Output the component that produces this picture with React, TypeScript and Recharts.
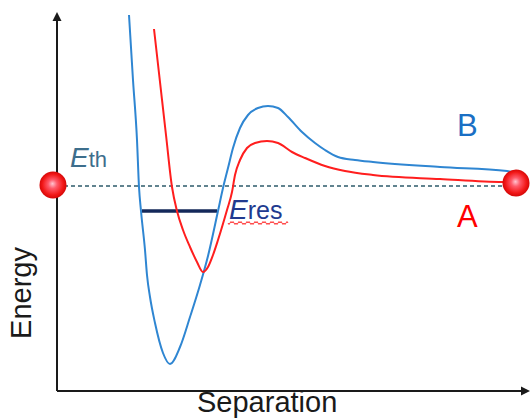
import React from "react";
import { ComposedChart, Line, XAxis, YAxis, ReferenceLine, ReferenceDot } from "recharts";

// Separation (arbitrary units) vs Energy (arbitrary units, 0 = threshold Eth)
const curveB = [
  { x: 7.2, y: 17.1 }, { x: 7.6, y: 10.6 }, { x: 8.0, y: 4.6 }, { x: 8.2, y: -0.1 },
  { x: 8.4, y: -2.5 }, { x: 8.8, y: -6.4 }, { x: 9.0, y: -8.9 }, { x: 9.3, y: -11.1 },
  { x: 9.8, y: -13.7 }, { x: 10.6, y: -16.7 }, { x: 11.3, y: -17.8 }, { x: 12.3, y: -16.1 },
  { x: 13.3, y: -13.1 }, { x: 14.3, y: -9.9 }, { x: 15.1, y: -7.0 }, { x: 16.1, y: -2.5 },
  { x: 16.6, y: -0.2 }, { x: 17.1, y: 1.8 }, { x: 17.6, y: 3.8 }, { x: 18.3, y: 5.8 },
  { x: 19.1, y: 7.1 }, { x: 20.1, y: 7.8 }, { x: 21.1, y: 8.0 }, { x: 22.1, y: 7.8 },
  { x: 23.1, y: 6.9 }, { x: 24.5, y: 5.4 }, { x: 25.8, y: 4.3 }, { x: 26.8, y: 3.6 },
  { x: 28.1, y: 2.9 }, { x: 29.8, y: 2.6 }, { x: 31.6, y: 2.4 }, { x: 38.3, y: 1.9 },
  { x: 45.0, y: 1.5 }, { x: 45.5, y: 1.4 },
];

const curveA = [
  { x: 9.7, y: 15.7 }, { x: 10.3, y: 10.4 }, { x: 10.9, y: 5.1 }, { x: 11.5, y: -0.1 },
  { x: 12.0, y: -2.5 }, { x: 12.6, y: -4.4 }, { x: 13.3, y: -6.1 }, { x: 14.0, y: -7.6 },
  { x: 14.6, y: -8.6 }, { x: 15.1, y: -8.1 }, { x: 15.6, y: -6.9 }, { x: 16.1, y: -5.4 },
  { x: 17.0, y: -2.4 }, { x: 17.5, y: -0.6 }, { x: 17.8, y: 1.1 }, { x: 18.3, y: 2.6 },
  { x: 19.0, y: 3.8 }, { x: 19.8, y: 4.3 }, { x: 21.0, y: 4.5 }, { x: 22.1, y: 4.3 },
  { x: 23.5, y: 3.4 }, { x: 24.8, y: 2.8 }, { x: 26.8, y: 2.0 }, { x: 28.8, y: 1.5 },
  { x: 31.6, y: 1.1 }, { x: 38.3, y: 0.7 }, { x: 44.6, y: 0.4 }, { x: 45.5, y: 0.4 },
];

const thresholdE = 0;
const resonanceE = -2.5;
const resonanceSpan = [8.5, 16.0];
const atomEnds = [{ x: -0.4, y: 0.1 }, { x: 45.9, y: 0.3 }];
const axisOrigin = { x: 0, y: -20.5 };
const axisEnds = { x: 47.3, y: 17.4 };
const xDomain = [-5.7, 47.4];
const yDomain = [-23.2, 18.6];

const labelPos = {
  eth: { x: 1.3, y: 1.9 },
  eres: { x: 17.2, y: -3.3 },
  b: { x: 40.0, y: 5.0 },
  a: { x: 40.0, y: -4.1 },
  energy: { x: -3.4, y: -10.7 },
  separation: { x: 14.0, y: -22.6 },
};

const FONT = "'Liberation Sans', Arial, sans-serif";

const Sphere = (props: any) => {
  const { cx, cy } = props;
  const id = "sph" + Math.round(cx);
  return (
    <g>
      <defs>
        <radialGradient id={id} cx="50%" cy="50%" r="55%" fx="48%" fy="45%">
          <stop offset="0%" stopColor="#ffc4d0" />
          <stop offset="30%" stopColor="#ff5a6a" />
          <stop offset="70%" stopColor="#f21818" />
          <stop offset="100%" stopColor="#c80000" />
        </radialGradient>
      </defs>
      <circle cx={cx} cy={cy} r={13.5} fill={`url(#${id})`} />
    </g>
  );
};

const ArrowLine = (props: any) => {
  const { x1, y1, x2, y2 } = props;
  const ang = Math.atan2(y2 - y1, x2 - x1);
  const L = 9, W = 4.5;
  const bx = x2 - L * Math.cos(ang), by = y2 - L * Math.sin(ang);
  const px = -Math.sin(ang) * W, py = Math.cos(ang) * W;
  return (
    <g>
      <line x1={x1} y1={y1} x2={bx + 2 * Math.cos(ang)} y2={by + 2 * Math.sin(ang)} stroke="#1a1a1a" strokeWidth={2} />
      <polygon points={`${x2},${y2} ${bx + px},${by + py} ${bx - px},${by - py}`} fill="#1a1a1a" />
    </g>
  );
};

const EthLabel = (props: any) => (
  <text x={props.cx} y={props.cy} fill="#3d6e8c" fontFamily={FONT}>
    <tspan fontStyle="italic" fontSize={28}>E</tspan>
    <tspan fontSize={22}>th</tspan>
  </text>
);

const EresLabel = (props: any) => {
  const { cx, cy } = props;
  let d = `M ${cx - 1} ${cy + 4}`;
  for (let i = 0; i < 15; i++) {
    d += ` q 1 ${i % 2 === 0 ? 3 : -3} 2 0 q 1 ${i % 2 === 0 ? -3 : 3} 2 0`;
  }
  return (
    <g>
      <text x={cx} y={cy} fill="#213a8f" fontFamily={FONT}>
        <tspan fontStyle="italic" fontSize={28}>E</tspan>
        <tspan fontSize={25}>res</tspan>
      </text>
      <path d={d} fill="none" stroke="#ff3030" strokeWidth={1} />
    </g>
  );
};

const TextLabel = (color: string, size: number, text: string, rotate = false, anchor = "start") => (props: any) => (
  <text
    x={props.cx}
    y={props.cy}
    fill={color}
    fontFamily={FONT}
    fontSize={size}
    textAnchor={anchor}
    dominantBaseline={rotate ? "middle" : "auto"}
    transform={rotate ? `rotate(-90 ${props.cx} ${props.cy})` : undefined}
  >
    {text}
  </text>
);

export default function App() {
  return (
    <div style={{ width: 531, height: 418 }}>
      <style>{"body{margin:0;}"}</style>
      <ComposedChart width={531} height={418} margin={{ top: 0, right: 0, bottom: 0, left: 0 }}>
        <XAxis type="number" dataKey="x" domain={xDomain} allowDataOverflow hide />
        <YAxis type="number" dataKey="y" domain={yDomain} allowDataOverflow hide />
        <ReferenceLine
          segment={[{ x: axisOrigin.x, y: axisOrigin.y }, { x: axisOrigin.x, y: axisEnds.y }]}
          ifOverflow="visible"
          shape={ArrowLine}
        />
        <ReferenceLine
          segment={[{ x: axisOrigin.x, y: axisOrigin.y }, { x: axisEnds.x, y: axisOrigin.y }]}
          ifOverflow="visible"
          shape={ArrowLine}
        />
        <ReferenceLine
          segment={[{ x: 0, y: thresholdE }, { x: 45.5, y: thresholdE }]}
          stroke="#2e5b6b"
          strokeWidth={1.5}
          strokeDasharray="4 3"
          ifOverflow="visible"
        />
        <ReferenceLine
          segment={[{ x: resonanceSpan[0], y: resonanceE }, { x: resonanceSpan[1], y: resonanceE }]}
          stroke="#14285a"
          strokeWidth={3.5}
          ifOverflow="visible"
        />
        <Line data={curveB} dataKey="y" type="monotone" stroke="#2f86d2" strokeWidth={2} dot={false} activeDot={false} legendType="none" isAnimationActive={false} />
        <Line data={curveA} dataKey="y" type="monotone" stroke="#ff1e1e" strokeWidth={2} dot={false} activeDot={false} legendType="none" isAnimationActive={false} />
        {atomEnds.map((p, i) => (
          <ReferenceDot key={i} x={p.x} y={p.y} ifOverflow="visible" shape={Sphere} />
        ))}
        <ReferenceDot x={labelPos.eth.x} y={labelPos.eth.y} ifOverflow="visible" shape={EthLabel} />
        <ReferenceDot x={labelPos.eres.x} y={labelPos.eres.y} ifOverflow="visible" shape={EresLabel} />
        <ReferenceDot x={labelPos.b.x} y={labelPos.b.y} ifOverflow="visible" shape={TextLabel("#1a6fc4", 31, "B")} />
        <ReferenceDot x={labelPos.a.x} y={labelPos.a.y} ifOverflow="visible" shape={TextLabel("#ff0000", 31, "A")} />
        <ReferenceDot x={labelPos.energy.x} y={labelPos.energy.y} ifOverflow="visible" shape={TextLabel("#1a1a1a", 29, "Energy", true, "middle")} />
        <ReferenceDot x={labelPos.separation.x} y={labelPos.separation.y} ifOverflow="visible" shape={TextLabel("#1a1a1a", 29, "Separation")} />
      </ComposedChart>
    </div>
  );
}
